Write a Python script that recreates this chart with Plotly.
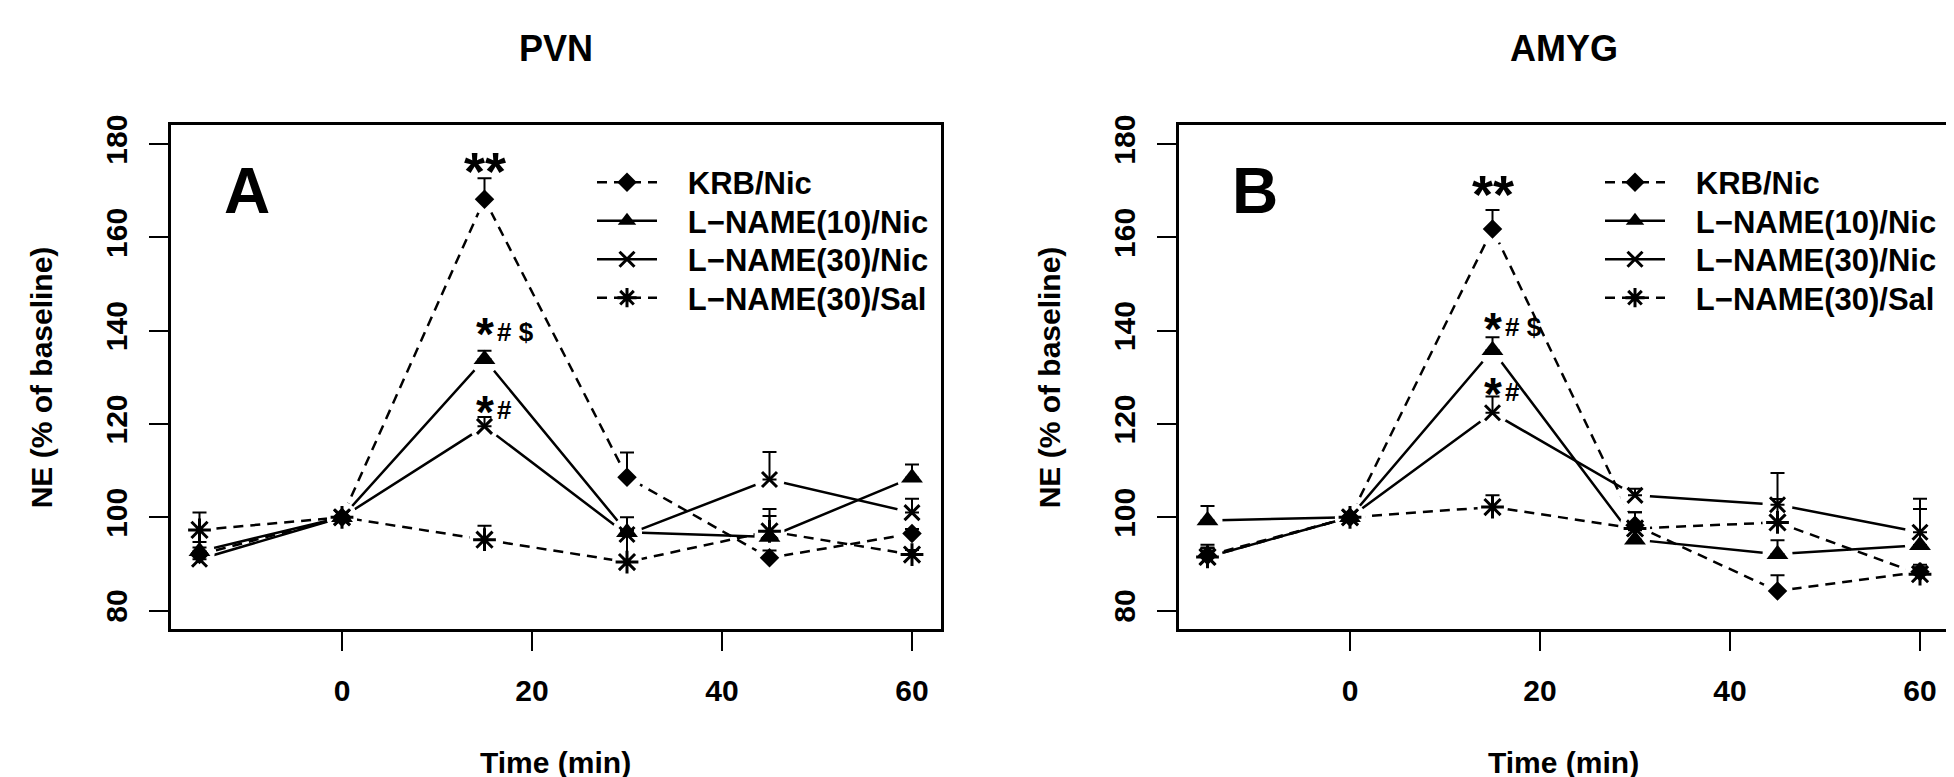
import plotly.graph_objects as go

# ---------------- data ----------------
time = [-15, 0, 15, 30, 45, 60]
series_names = ["KRB/Nic", "L\u2212NAME(10)/Nic", "L\u2212NAME(30)/Nic", "L\u2212NAME(30)/Sal"]

# Panel A : PVN
pvn_krb = [92.0, 100, 168.2, 108.6, 91.3, 96.5]
pvn_krb_err = [1.5, 0, 4.5, 5.3, 1.6, 1.0]
pvn_l10 = [92.7, 100, 133.9, 96.8, 95.8, 108.5]
pvn_l10_err = [2.0, 0, 1.8, 3.2, 4.5, 2.8]
pvn_l30 = [91.0, 100, 119.5, 96.3, 108.1, 101.0]
pvn_l30_err = [1.5, 0, 2.0, 1.0, 5.9, 3.0]
pvn_sal = [97.3, 100, 95.2, 90.4, 97.0, 92.0]
pvn_sal_err = [3.7, 0, 3.0, 6.0, 4.8, 1.0]

# Panel B : AMYG
amyg_krb = [91.8, 100, 161.8, 98.3, 84.2, 88.3]
amyg_krb_err = [1.5, 0, 4.1, 2.8, 3.4, 1.5]
amyg_l10 = [99.3, 100, 135.8, 95.2, 92.1, 94.0]
amyg_l10_err = [3.1, 0, 2.8, 2.0, 3.0, 7.8]
amyg_l30 = [91.5, 100, 122.4, 104.7, 102.7, 96.8]
amyg_l30_err = [2.0, 0, 3.5, 1.4, 6.8, 7.2]
amyg_sal = [91.5, 100, 102.2, 97.6, 98.9, 87.8]
amyg_sal_err = [2.6, 0, 2.5, 3.5, 5.0, 1.5]

x_ticks = [0, 20, 40, 60]
y_ticks = [80, 100, 120, 140, 160, 180]
panel_titles = ["PVN", "AMYG"]
panel_letters = ["A", "B"]
x_title = "Time (min)"
y_title = "NE (% of baseline)"

# significance marks: (x, y, big text, small text)
pvn_marks = [(15, 174.7, "**", ""), (15, 139.8, "*", "# $"), (15, 122.9, "*", "#")]
amyg_marks = [(15, 169.7, "**", ""), (15, 140.7, "*", "# $"), (15, 126.9, "*", "#")]

# ---------------- styles ----------------
FONT = "Liberation Sans, Arial, sans-serif"
W, H = 1954, 777
styles = [
    dict(dash="10px,7px", symbol="diamond", size=15, lw=0),
    dict(dash="solid", symbol="triangle-up", size=19, lw=0),
    dict(dash="solid", symbol="x-thin", size=15, lw=3),
    dict(dash="10px,7px", symbol="asterisk", size=19, lw=3),
]

boxA = (163, 932.5)
boxB = (1171, 1940.5)
box_top, box_bot = 108, 619
ydom = [(H - box_bot) / H, (H - box_top) / H]

legend_rows_px = [166, 205, 244, 283]     # row centres (page px)
legend_item_left = 584                     # relative placement in panel A
LEG_PAD = "\u00a0\u00a0\u00a0"

fig = go.Figure()

panels = [
    ("x", "y", 0, [pvn_krb, pvn_l10, pvn_l30, pvn_sal],
     [pvn_krb_err, pvn_l10_err, pvn_l30_err, pvn_sal_err]),
    ("x2", "y2", 1, [amyg_krb, amyg_l10, amyg_l30, amyg_sal],
     [amyg_krb_err, amyg_l10_err, amyg_l30_err, amyg_sal_err]),
]

legend_layouts = {}
for xa, ya, pi, vals, errs in panels:
    # 1) connecting lines
    for v, st in zip(vals, styles):
        fig.add_trace(go.Scatter(
            x=time, y=v, xaxis=xa, yaxis=ya, mode="lines", showlegend=False,
            hoverinfo="skip",
            line=dict(color="black", width=2.5, dash=st["dash"])))
    # 2) white halos -> R type="b" gaps around points
    for v in vals:
        fig.add_trace(go.Scatter(
            x=time, y=v, xaxis=xa, yaxis=ya, mode="markers", showlegend=False,
            hoverinfo="skip",
            marker=dict(symbol="circle", size=30, color="white", line=dict(width=0))))
    # 3) markers with upward error bars
    for name, v, e, st in zip(series_names, vals, errs, styles):
        fig.add_trace(go.Scatter(
            x=time, y=v, xaxis=xa, yaxis=ya, name=name, mode="markers",
            showlegend=False,
            marker=dict(symbol=st["symbol"], size=st["size"], color="black",
                        line=dict(color="black", width=st["lw"])),
            error_y=dict(type="data", symmetric=False, array=e,
                         arrayminus=[0] * len(e), width=7, thickness=2,
                         color="black")))
    # 4) legend entries (one legend per row for exact spacing)
    box0 = boxA[0] if pi == 0 else boxB[0]
    for k, (name, st) in enumerate(zip(series_names, styles)):
        idx = 1 + pi * 4 + k
        key = "legend" if idx == 1 else f"legend{idx}"
        fig.add_trace(go.Scatter(
            x=[None], y=[None], xaxis=xa, yaxis=ya, name=LEG_PAD + name, legend=key,
            mode="lines+markers", showlegend=True,
            line=dict(color="black", width=2.5, dash=st["dash"]),
            marker=dict(symbol=st["symbol"], size=st["size"], color="black",
                        line=dict(color="black", width=st["lw"]))))
        legend_layouts[key] = dict(
            x=(box0 + legend_item_left - boxA[0]) / W, xanchor="left",
            y=1 - legend_rows_px[k] / H, yanchor="middle",
            font=dict(family=FONT, size=31, color="black", weight="bold"),
            bgcolor="rgba(0,0,0,0)", borderwidth=0, itemwidth=60,
        )

# ---------------- layout ----------------
axis_common = dict(
    showgrid=False, zeroline=False, showline=True, linewidth=3,
    linecolor="black", mirror=True, ticks="outside", ticklen=19,
    tickwidth=2, tickcolor="black",
    tickfont=dict(family=FONT, size=30, color="black", weight="bold"),
)

fig.update_layout(
    width=W, height=H, margin=dict(l=0, r=0, t=0, b=0),
    paper_bgcolor="white", plot_bgcolor="white",
    xaxis=dict(domain=[boxA[0] / W, boxA[1] / W], range=[-18, 63],
               tickvals=x_ticks, anchor="y", ticklabelstandoff=14, **axis_common),
    yaxis=dict(domain=ydom, range=[76, 184], tickvals=y_ticks, anchor="x",
               tickangle=-90, ticklabelstandoff=10, **axis_common),
    xaxis2=dict(domain=[boxB[0] / W, boxB[1] / W], range=[-18, 63],
                tickvals=x_ticks, anchor="y2", ticklabelstandoff=14, **axis_common),
    yaxis2=dict(domain=ydom, range=[76, 184], tickvals=y_ticks, anchor="x2",
                tickangle=-90, ticklabelstandoff=10, **axis_common),
    showlegend=True,
)
fig.update_layout(**legend_layouts)

ann = []
for (bx0, bx1), title, letter, xr, yr, marks in [
    (boxA, panel_titles[0], panel_letters[0], "x", "y", pvn_marks),
    (boxB, panel_titles[1], panel_letters[1], "x2", "y2", amyg_marks),
]:
    cx = (bx0 + bx1) / 2 / W
    ann.append(dict(text=title, x=cx, y=1 - 30 / H, xref="paper", yref="paper",
                    showarrow=False, xanchor="center", yanchor="middle",
                    font=dict(family=FONT, size=36, color="black", weight="bold")))
    ann.append(dict(text=x_title, x=cx, y=1 - 754 / H, xref="paper", yref="paper",
                    showarrow=False, xanchor="center", yanchor="middle",
                    font=dict(family=FONT, size=30, color="black", weight="bold")))
    ann.append(dict(text=y_title, x=(bx0 - 130) / W, y=1 - 363.5 / H,
                    xref="paper", yref="paper", textangle=-90,
                    showarrow=False, xanchor="center", yanchor="middle",
                    font=dict(family=FONT, size=30, color="black", weight="bold")))
    ann.append(dict(text=letter, x=-10, y=170, xref=xr, yref=yr,
                    showarrow=False, xanchor="center", yanchor="middle",
                    font=dict(family=FONT, size=64, color="black", weight="bold")))
    for mx, my, big, small in marks:
        fs = 54 if big == "**" else 46
        ann.append(dict(text=big, x=mx, y=my, xref=xr, yref=yr, showarrow=False,
                        xanchor="center", yanchor="middle", yshift=-2,
                        font=dict(family=FONT, size=fs, color="black", weight="bold")))
        if small:
            ann.append(dict(text=small, x=mx + 1.1, y=my, xref=xr, yref=yr,
                            showarrow=False, xanchor="left", yanchor="middle",
                            font=dict(family=FONT, size=26, color="black",
                                      weight="bold")))
fig.update_layout(annotations=ann)

fig.write_html("out.html")
